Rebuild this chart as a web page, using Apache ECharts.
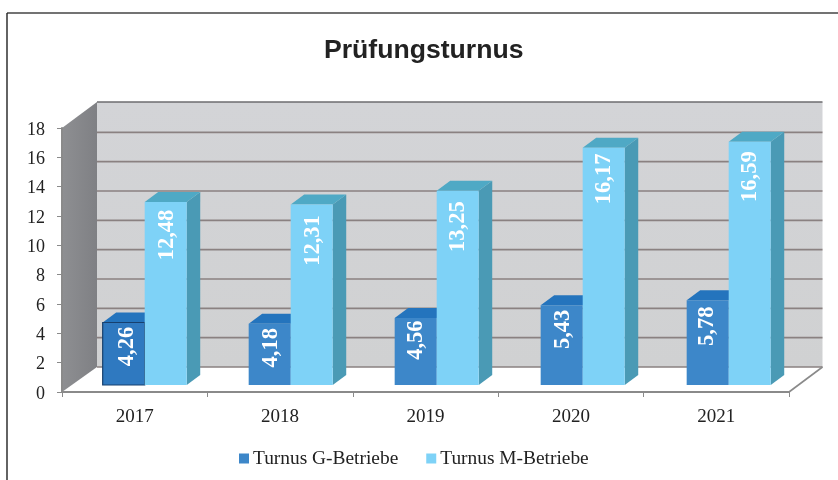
<!DOCTYPE html>
<html><head><meta charset="utf-8">
<style>html,body{margin:0;padding:0;background:#fff}#c{width:838px;height:480px}</style>
<script src="https://cdn.jsdelivr.net/npm/echarts@6/dist/echarts.min.js"></script>
</head><body><div id="c"></div>
<script>
var categories = ['2017','2018','2019','2020','2021'];
var turnusG = [4.26,4.18,4.56,5.43,5.78];
var turnusM = [12.48,12.31,13.25,16.17,16.59];
var yTicks = [0,2,4,6,8,10,12,14,16,18];

var WALL_DX = 35, WALL_DY = 25, BAR_DY = 7, BAR_DX = 13.5, BAR_DDY = 10;
var liftG = [24,24,22,24,26], liftM = [33,36,36,31,35];
var shiftG = [3,1,0,1,-1], shiftM = [1,1,0,0,0];
function faces(x0, x1, yTop, yBase, front, top, side, stroke){
  var kids = [];
  var s = stroke ? {stroke:stroke, lineWidth:1.2} : {};
  kids.push({type:'polygon',shape:{points:[[x1,yBase],[x1+BAR_DX,yBase-BAR_DDY],[x1+BAR_DX,yTop-BAR_DDY],[x1,yTop]]},style:{fill:side}});
  kids.push({type:'polygon',shape:{points:[[x0,yTop],[x1,yTop],[x1+BAR_DX,yTop-BAR_DDY],[x0+BAR_DX,yTop-BAR_DDY]]},style:{fill:top}});
  kids.push({type:'rect',shape:{x:x0,y:yTop,width:x1-x0,height:yBase-yTop},style:Object.assign({fill:front},s)});
  return kids;
}
function barRender(dir, colors, lift, shift){
  return function(params, api){
    var i = api.value(0), v = api.value(1);
    var p0 = api.coord([i,0]), p = api.coord([i,v]);
    var w = api.size([1,0])[0]*0.289;
    var c = p0[0]+10+0.6*i;
    var x0 = dir<0 ? c-w : c, x1 = dir<0 ? c : c+w;
    var yBase = p0[1]-BAR_DY, yTop = p[1]-BAR_DY;
    var first = dir<0 && i===0;
    var kids = faces(x0,x1,yTop,yBase, first?'#2f79c0':colors[0], colors[1], colors[2], first?'#17406e':null);
    var txt = v.toFixed(2).replace('.',',');
    kids.push({type:'text',x:(x0+x1)/2+shift[i],y:yTop+lift[i],rotation:Math.PI/2,
      style:{text:txt,fill:'#fff',font:'bold 22.5px "Liberation Serif"',align:'center',verticalAlign:'middle'}});
    return {type:'group',children:kids};
  };
}
function wallRender(params, api){
  var cs = params.coordSys;
  var x0=cs.x, x1=cs.x+cs.width, yb=cs.y+cs.height, yt=cs.y;
  var bx0=x0+WALL_DX, bx1=x1+33.5;
  var kids=[
    {type:'polygon',shape:{points:[[x0,yb],[x1,yb],[bx1,yb-WALL_DY],[bx0,yb-WALL_DY]]},style:{fill:'#fff'}},
    {type:'rect',shape:{x:bx0,y:yt-WALL_DY-1,width:bx1-bx0,height:cs.height+1},style:{fill:new echarts.graphic.LinearGradient(0,0,0,1,[{offset:0,color:'#d3d4d7'},{offset:1,color:'#d0d1d2'}])}},
    {type:'polygon',shape:{points:[[x0,yb],[x0,yt],[bx0,yt-WALL_DY-1],[bx0,yb-WALL_DY]]},style:{fill:new echarts.graphic.LinearGradient(0,0,1,0,[{offset:0,color:'#8e8f92'},{offset:1,color:'#7f8084'}])}}
  ];
  yTicks.forEach(function(t){
    var y=api.coord([0,t])[1]-WALL_DY;
    if(t===18) y-=1;
    kids.push({type:'line',shape:{x1:bx0,y1:y,x2:bx1,y2:y},style:{stroke:t===18?'#6d6d6f':'#8a8181',lineWidth:t===0?1.5:1.6}});
  });
  kids.push({type:'line',shape:{x1:x1,y1:yb,x2:bx1,y2:yb-WALL_DY},style:{stroke:'#8a8a8a',lineWidth:1.6}});
  return {type:'group',children:kids};
}
var chart = echarts.init(document.getElementById('c'),null,{renderer:'canvas'});
var axisLine={show:true,lineStyle:{color:'#8a8a8a',width:2}};
chart.setOption({
  animation:false,
  backgroundColor:'#fff',
  title:{text:'Prüfungsturnus',left:319,top:32,textStyle:{fontFamily:'Liberation Sans',fontWeight:'bold',fontSize:26.6,color:'#222'}},
  grid:{left:62,right:49,top:128,bottom:88},
  legend:{left:234,top:444,itemWidth:10,itemHeight:10,itemGap:28,icon:'rect',
    data:['Turnus G-Betriebe','Turnus M-Betriebe'],
    textStyle:{fontFamily:'Liberation Serif',fontSize:19.4,color:'#222',padding:[0,0,0,-1]}},
  xAxis:{type:'category',data:categories,z:3,axisLine:axisLine,axisTick:{show:true,alignWithLabel:false,length:5,lineStyle:{color:'#8a8a8a'}},
    axisLabel:{fontFamily:'Liberation Serif',fontSize:19,color:'#222',margin:16},splitLine:{show:false}},
  yAxis:{type:'value',min:0,max:18,interval:2,z:3,axisLine:axisLine,axisTick:{show:true,length:5,lineStyle:{color:'#8a8a8a'}},
    axisLabel:{margin:17,formatter:'{a|{value}}',rich:{a:{fontFamily:'Liberation Serif',fontSize:18,color:'#222',padding:[4,0,0,0]}}},splitLine:{show:false}},
  graphic:[
    {type:'line',shape:{x1:7,y1:13,x2:838,y2:13},style:{stroke:'#444',lineWidth:1.4},z:10},
    {type:'line',shape:{x1:7,y1:13,x2:7,y2:480},style:{stroke:'#222',lineWidth:1.4},z:10}
  ],
  series:[
    {type:'custom',name:'walls',coordinateSystem:'cartesian2d',z:-1,silent:true,clip:false,data:[[0,0]],encode:{x:0,y:1},renderItem:wallRender},
    {type:'custom',name:'Turnus G-Betriebe',coordinateSystem:'cartesian2d',z:2,clip:false,itemStyle:{color:'#3d87c9'},
      data:turnusG.map(function(v,i){return [i,v];}),encode:{x:0,y:1},renderItem:barRender(-1,['#3d87c9','#2474bd','#2a6ea8'],liftG,shiftG)},
    {type:'custom',name:'Turnus M-Betriebe',coordinateSystem:'cartesian2d',z:3,clip:false,itemStyle:{color:'#7ed2f7'},
      data:turnusM.map(function(v,i){return [i,v];}),encode:{x:0,y:1},renderItem:barRender(1,['#7ed2f7','#4fa9c5','#4a9ab5'],liftM,shiftM)}
  ]
});
</script></body></html>
